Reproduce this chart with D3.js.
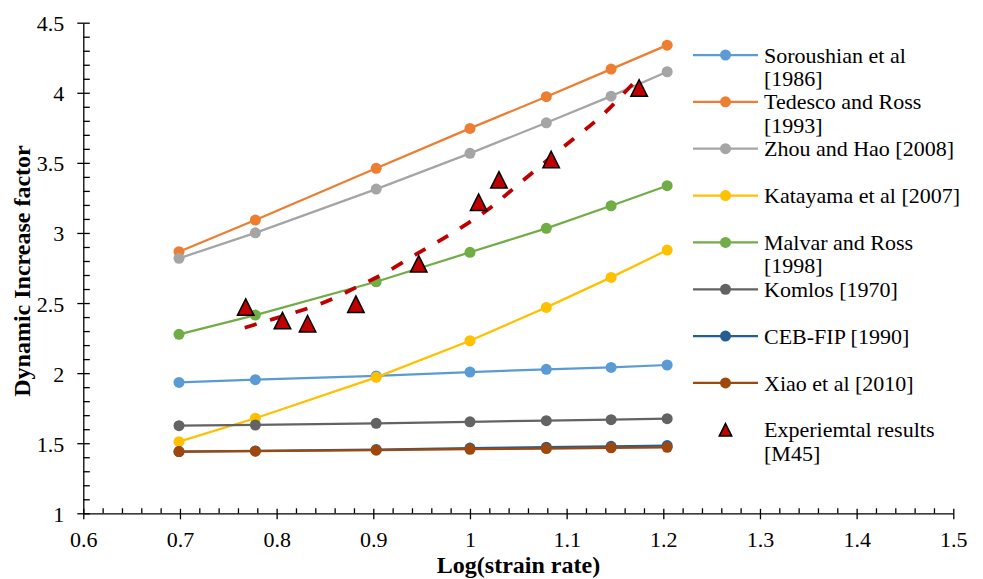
<!DOCTYPE html>
<html>
<head>
<meta charset="utf-8">
<script src="https://cdn.jsdelivr.net/npm/d3@7"></script>
<style>
  html, body { margin: 0; padding: 0; background: #fff; }
  svg { display: block; }
</style>
</head>
<body>
<svg id="chart" width="983" height="579"></svg>
<script>
// Log(strain rate) positions shared by all model curves
const logStrainRate = [0.699, 0.778, 0.903, 1.0, 1.079, 1.146, 1.204];

// Dynamic increase factor per model
const soroushian = [1.934, 1.953, 1.980, 2.008, 2.027, 2.041, 2.058];
const tedescoRoss = [2.866, 3.092, 3.461, 3.746, 3.972, 4.169, 4.340];
const zhouHao = [2.819, 3.001, 3.313, 3.568, 3.786, 3.976, 4.150];
const katayama = [1.511, 1.678, 1.970, 2.231, 2.469, 2.683, 2.878];
const malvarRoss = [2.277, 2.414, 2.652, 2.862, 3.033, 3.194, 3.337];
const komlos = [1.625, 1.630, 1.642, 1.653, 1.661, 1.668, 1.675];
const cebFip = [1.440, 1.445, 1.455, 1.465, 1.472, 1.478, 1.483];
const xiao = [1.440, 1.443, 1.450, 1.457, 1.462, 1.467, 1.471];

// Experimental results (M45)
const expLogRate = [0.768, 0.806, 0.832, 0.882, 0.947, 1.009, 1.030, 1.084, 1.175];
const expDIF = [2.471, 2.375, 2.352, 2.492, 2.780, 3.219, 3.379, 3.524, 4.034];

// Trend curve through the experimental results
const trendLogRate = [0.767, 0.807, 0.835, 0.862, 0.886, 0.910, 0.948, 0.970, 0.995, 1.019, 1.045, 1.105, 1.128, 1.148, 1.167, 1.176];
const trendDIF = [2.324, 2.409, 2.466, 2.538, 2.628, 2.700, 2.866, 2.949, 3.056, 3.163, 3.318, 3.663, 3.782, 3.912, 4.055, 4.114];

// Axis ticks
const xTickValues = [0.6, 0.7, 0.8, 0.9, 1.0, 1.1, 1.2, 1.3, 1.4, 1.5];
const xTickLabels = ["0.6", "0.7", "0.8", "0.9", "1", "1.1", "1.2", "1.3", "1.4", "1.5"];
const yTickValues = [1, 1.5, 2, 2.5, 3, 3.5, 4, 4.5];
const yTickLabels = ["1", "1.5", "2", "2.5", "3", "3.5", "4", "4.5"];

// Series names (legend lines) and colours
const seriesNames = [
  ["Soroushian et al", "[1986]"],
  ["Tedesco and Ross", "[1993]"],
  ["Zhou and Hao [2008]"],
  ["Katayama et al [2007]"],
  ["Malvar and Ross", "[1998]"],
  ["Komlos [1970]"],
  ["CEB-FIP [1990]"],
  ["Xiao et al [2010]"]
];
const seriesValues = [soroushian, tedescoRoss, zhouHao, katayama, malvarRoss, komlos, cebFip, xiao];
const seriesColors = ["#5B9BD5", "#ED7D31", "#A5A5A5", "#FFC000", "#70AD47", "#636363", "#255E91", "#9E480E"];
const expName = ["Experiemtal results", "[M45]"];
const expFill = "#C00000";

const FONT = "'Liberation Serif', 'Times New Roman', 'DejaVu Serif', serif";

const svg = d3.select("#chart");

const x = d3.scaleLinear().domain([0.6, 1.5]).range([83.3, 953.3]);
const y = d3.scaleLinear().domain([1, 4.5]).range([513.3, 22.7]);

// ---- axes ----
const xMinor = d3.range(0.6, 1.5001, 0.02).filter(v => Math.abs(v * 10 - Math.round(v * 10)) > 1e-6);
const yMinor = d3.range(1, 4.5001, 0.1).filter(v => Math.abs(v * 2 - Math.round(v * 2)) > 1e-6);

function styleAxis(g) {
  g.attr("font-family", FONT);
  g.selectAll("path, line").attr("stroke", "#000").attr("stroke-width", 1.3);
  g.selectAll("text").attr("font-family", FONT).attr("fill", "#000");
}

// x axis: major ticks cross the line, minor ticks point inward
const xAxisG = svg.append("g").attr("transform", `translate(0,${y(1)})`);
xAxisG.append("g")
  .call(d3.axisBottom(x).tickValues(xTickValues).tickSize(6).tickSizeOuter(0).tickPadding(10)
    .tickFormat((d, i) => xTickLabels[i]))
  .call(styleAxis)
  .call(g => g.selectAll("text").attr("font-size", 22).attr("dy", 0).attr("y", 33.7));
xAxisG.append("g")
  .call(d3.axisBottom(x).tickValues(xTickValues).tickSize(-4.5).tickSizeOuter(0).tickFormat(""))
  .call(styleAxis).call(g => g.select(".domain").remove());
xAxisG.append("g")
  .call(d3.axisBottom(x).tickValues(xMinor).tickSize(-5).tickSizeOuter(0).tickFormat(""))
  .call(styleAxis).call(g => g.select(".domain").remove());

// y axis
const yAxisG = svg.append("g").attr("transform", `translate(${x(0.6)},0)`);
yAxisG.append("g")
  .call(d3.axisLeft(y).tickValues(yTickValues).tickSize(6).tickSizeOuter(0).tickPadding(13)
    .tickFormat((d, i) => yTickLabels[i]))
  .call(styleAxis)
  .call(g => g.selectAll("text").attr("font-size", 22).attr("dy", 8));
yAxisG.append("g")
  .call(d3.axisLeft(y).tickValues(yTickValues).tickSize(-6.5).tickSizeOuter(0).tickFormat(""))
  .call(styleAxis).call(g => g.select(".domain").remove());
yAxisG.append("g")
  .call(d3.axisLeft(y).tickValues(yMinor).tickSize(-6.5).tickSizeOuter(0).tickFormat(""))
  .call(styleAxis).call(g => g.select(".domain").remove());

// axis titles
svg.append("text")
  .attr("x", 518.5).attr("y", 572.5)
  .attr("text-anchor", "middle")
  .attr("font-family", FONT)
  .attr("font-size", 24).attr("font-weight", "bold")
  .text("Log(strain rate)");
svg.append("text")
  .attr("transform", "translate(29.5,271) rotate(-90)")
  .attr("text-anchor", "middle")
  .attr("font-family", FONT)
  .attr("font-size", 24).attr("font-weight", "bold")
  .text("Dynamic Increase factor");

// ---- model curves ----
const line = d3.line().x(d => x(d[0])).y(d => y(d[1]));
const plot = svg.append("g");

seriesValues.forEach((vals, si) => {
  const pts = logStrainRate.map((lx, i) => [lx, vals[i]]);
  const g = plot.append("g");
  g.append("path")
    .attr("d", line(pts))
    .attr("fill", "none")
    .attr("stroke", seriesColors[si])
    .attr("stroke-width", 2.25);
  g.selectAll("circle").data(pts).join("circle")
    .attr("cx", d => x(d[0])).attr("cy", d => y(d[1]))
    .attr("r", 5.5)
    .attr("fill", seriesColors[si]);
});

// ---- experimental trend (dashed) ----
const trendPts = trendLogRate.map((lx, i) => [lx, trendDIF[i]]);
plot.append("path")
  .attr("d", d3.line().x(d => x(d[0])).y(d => y(d[1])).curve(d3.curveBasis)(trendPts))
  .attr("fill", "none")
  .attr("stroke", expFill)
  .attr("stroke-width", 3.8)
  .attr("stroke-dasharray", "12.5,14");

// ---- experimental markers ----
function trianglePath(w, h) {
  return `M0,${-h / 2}L${w / 2},${h / 2}L${-w / 2},${h / 2}Z`;
}
const expPts = expLogRate.map((lx, i) => [lx, expDIF[i]]);
plot.selectAll("path.exp").data(expPts).join("path")
  .attr("class", "exp")
  .attr("transform", d => `translate(${x(d[0])},${y(d[1])})`)
  .attr("d", trianglePath(16.5, 16.5))
  .attr("fill", expFill)
  .attr("stroke", "#000")
  .attr("stroke-width", 1.5)
  .attr("stroke-linejoin", "miter");

// ---- legend ----
const legend = svg.append("g");
const legendTop = 55, legendStep = 46.85;
const lineX0 = 693, lineX1 = 758, markX = 725.5, textX = 764;

function legendText(g, lines, yc) {
  const t = g.append("text").attr("x", textX).attr("y", yc + 7.6)
    .attr("font-family", FONT).attr("font-size", 22).attr("fill", "#000");
  lines.forEach((s, i) => {
    t.append("tspan").attr("x", textX).attr("dy", i === 0 ? 0 : 23.3).text(s);
  });
}

seriesNames.forEach((lines, i) => {
  const yc = legendTop + i * legendStep;
  const g = legend.append("g");
  g.append("line")
    .attr("x1", lineX0).attr("x2", lineX1).attr("y1", yc).attr("y2", yc)
    .attr("stroke", seriesColors[i]).attr("stroke-width", 2.25);
  g.append("circle").attr("cx", markX).attr("cy", yc).attr("r", 5.5).attr("fill", seriesColors[i]);
  legendText(g, lines, yc);
});
{
  const yc = legendTop + seriesNames.length * legendStep;
  const g = legend.append("g");
  g.append("path")
    .attr("transform", `translate(${markX},${yc})`)
    .attr("d", trianglePath(12.5, 12.5))
    .attr("fill", expFill).attr("stroke", "#000").attr("stroke-width", 1.5);
  legendText(g, expName, yc);
}
</script>
</body>
</html>
